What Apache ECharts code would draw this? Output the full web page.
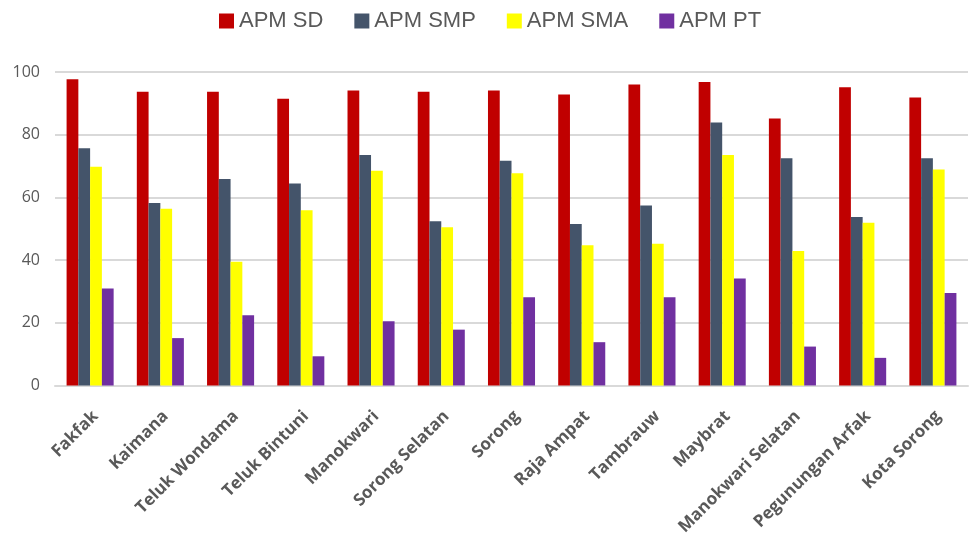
<!DOCTYPE html>
<html>
<head>
<meta charset="utf-8">
<script src="https://cdn.jsdelivr.net/npm/echarts@6/dist/echarts.min.js"></script>
<style>
  html, body { margin: 0; padding: 0; background: #fff; }
  #chart { width: 969px; height: 538px; }
</style>
</head>
<body>
<div id="chart"></div>
<script>
// Regencies / cities
const categories = ['Fakfak', 'Kaimana', 'Teluk Wondama', 'Teluk Bintuni', 'Manokwari', 'Sorong Selatan', 'Sorong', 'Raja Ampat', 'Tambrauw', 'Maybrat', 'Manokwari Selatan', 'Pegunungan Arfak', 'Kota Sorong'];

// Participation rates (APM) per school level
const apmSD  = [97.7, 93.7, 93.7, 91.5, 94.1, 93.7, 94.1, 92.8, 96.0, 96.8, 85.2, 95.1, 91.9];
const apmSMP = [75.7, 58.2, 65.9, 64.4, 73.5, 52.4, 71.7, 51.5, 57.4, 83.9, 72.5, 53.7, 72.5];
const apmSMA = [69.8, 56.4, 39.5, 55.9, 68.5, 50.5, 67.7, 44.7, 45.2, 73.5, 42.9, 51.9, 68.9];
const apmPT  = [30.9, 15.1, 22.4, 9.3, 20.5, 17.8, 28.1, 13.8, 28.1, 34.1, 12.4, 8.8, 29.5];

// Y axis ticks
const yTicks = [0, 20, 40, 60, 80, 100];

const seriesNames = ['APM SD', 'APM SMP', 'APM SMA', 'APM PT'];
const seriesData = [apmSD, apmSMP, apmSMA, apmPT];
const colors = ['#C00000', '#44546A', '#FFFF00', '#7030A0'];

const chart = echarts.init(document.getElementById('chart'), null, { renderer: 'canvas' });

chart.setOption({
  animation: false,
  color: colors,
  legend: {
    top: 5,
    left: 214,
    itemWidth: 15,
    itemHeight: 15,
    itemGap: 31,
    icon: 'rect',
    textStyle: { fontSize: 22, color: '#595959', fontFamily: 'Liberation Sans, sans-serif' },
    data: seriesNames
  },
  grid: { left: 55, right: 1, top: 72, bottom: 150, containLabel: false },
  xAxis: {
    type: 'category',
    data: categories,
    axisLine: { lineStyle: { color: '#d9d9d9', width: 2 } },
    axisTick: { show: false },
    axisLabel: {
      rotate: 45,
      interval: 0,
      margin: 13,
      align: 'right',
      verticalAlign: 'top',
      padding: [6, 7, 0, 0],
      fontSize: 17,
      fontWeight: 'bold',
      color: '#595959',
      fontFamily: 'Open Sans, sans-serif'
    }
  },
  yAxis: {
    type: 'value',
    min: yTicks[0],
    max: yTicks[yTicks.length - 1],
    interval: yTicks[1] - yTicks[0],
    axisLine: { show: false },
    axisTick: { show: false },
    axisLabel: { fontSize: 16, color: '#595959', margin: 15, fontFamily: 'Open Sans, sans-serif' },
    splitLine: { lineStyle: { color: '#d9d9d9', width: 2 } }
  },
  series: seriesNames.map((name, i) => ({
    name: name,
    type: 'bar',
    data: seriesData[i],
    barGap: '0%',
    barCategoryGap: '33%',
    itemStyle: { color: colors[i] }
  }))
});
</script>
</body>
</html>
